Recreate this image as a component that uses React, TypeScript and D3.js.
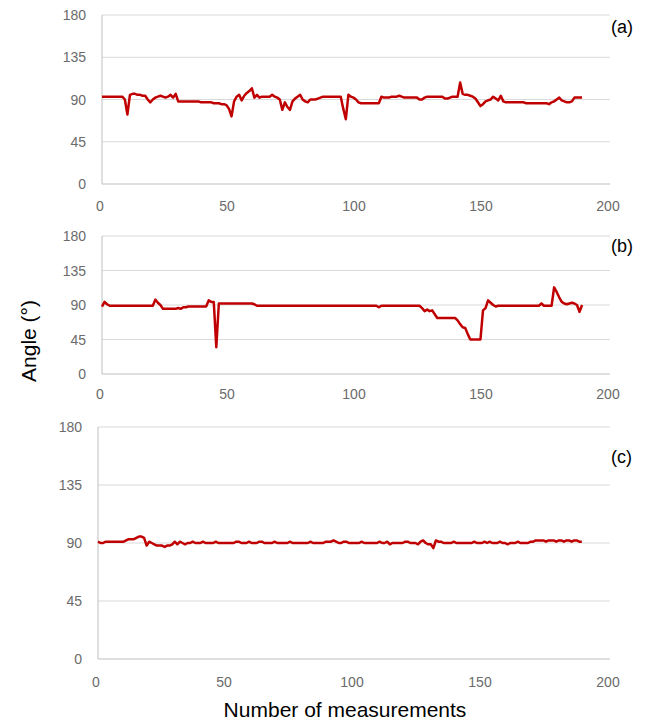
import { line, scaleLinear, select } from "d3"
import { useEffect, useRef } from "react"

// angle readings (degrees), one per measurement
const angleA = [
  93, 93, 93, 93, 93, 93, 93, 93, 93, 90,
  74, 95, 96, 96, 95, 95, 94, 94, 90, 87,
  90, 92, 93, 94, 93, 92, 93, 95, 92, 96,
  88, 88, 88, 88, 88, 88, 88, 88, 88, 87,
  87, 87, 87, 87, 86, 86, 86, 85, 85, 84,
  80, 72, 88, 93, 95, 89, 94, 97, 99, 102,
  92, 95, 92, 93, 93, 93, 93, 95, 93, 92,
  90, 79, 87, 82, 79, 88, 91, 93, 95, 90,
  88, 87, 90, 90, 90, 91, 92, 93, 93, 93,
  93, 93, 93, 93, 93, 80, 69, 95, 93, 92,
  90, 87, 86, 86, 86, 86, 86, 86, 86, 86,
  93, 92, 92, 92, 93, 93, 93, 94, 93, 92,
  92, 92, 92, 92, 92, 90, 90, 92, 93, 93,
  93, 93, 93, 93, 93, 91, 91, 92, 93, 93,
  93, 108, 96, 95, 95, 94, 93, 91, 87, 83,
  85, 88, 89, 90, 93, 91, 89, 94, 88, 87,
  87, 87, 87, 87, 87, 87, 87, 86, 86, 86,
  86, 86, 86, 86, 86, 86, 85, 87, 88, 90,
  92, 89, 88, 87, 87, 88, 92, 92, 92, 92,
]

const angleB = [
  88, 94, 91, 89, 89, 89, 89, 89, 89, 89,
  89, 89, 89, 89, 89, 89, 89, 89, 89, 89,
  89, 97, 93, 90, 85, 85, 85, 85, 85, 85,
  86, 85, 87, 87, 88, 88, 88, 88, 88, 88,
  88, 88, 96, 94, 94, 35, 92, 92, 92, 92,
  92, 92, 92, 92, 92, 92, 92, 92, 92, 92,
  91, 89, 89, 89, 89, 89, 89, 89, 89, 89,
  89, 89, 89, 89, 89, 89, 89, 89, 89, 89,
  89, 89, 89, 89, 89, 89, 89, 89, 89, 89,
  89, 89, 89, 89, 89, 89, 89, 89, 89, 89,
  89, 89, 89, 89, 89, 89, 89, 89, 89, 87,
  89, 89, 89, 89, 89, 89, 89, 89, 89, 89,
  89, 89, 89, 89, 89, 89, 86, 82, 84, 82,
  83, 78, 73, 73, 73, 73, 73, 73, 73, 73,
  70, 65, 61, 60, 52, 45, 45, 45, 45, 45,
  83, 86, 96, 93, 90, 88, 89, 89, 89, 89,
  89, 89, 89, 89, 89, 89, 89, 89, 89, 89,
  89, 89, 89, 92, 89, 89, 89, 89, 113, 107,
  100, 94, 92, 91, 92, 93, 92, 90, 81, 90,
]

const angleC = [
  91, 90, 90, 91, 91, 91, 91, 91, 91, 91,
  91, 92, 93, 93, 93, 94, 95, 95, 94, 88,
  91, 90, 89, 88, 88, 88, 87, 88, 88, 89,
  91, 89, 91, 90, 89, 90, 90, 91, 90, 90,
  90, 91, 90, 90, 90, 90, 91, 90, 90, 90,
  90, 90, 90, 90, 91, 91, 90, 90, 90, 91,
  90, 90, 90, 91, 91, 90, 90, 90, 90, 91,
  90, 90, 90, 90, 90, 91, 90, 90, 90, 90,
  90, 90, 90, 91, 90, 90, 90, 90, 90, 91,
  91, 91, 92, 91, 90, 90, 91, 91, 90, 90,
  90, 90, 90, 91, 90, 90, 90, 90, 90, 90,
  91, 90, 90, 91, 89, 90, 90, 90, 90, 90,
  91, 91, 90, 90, 90, 89, 91, 92, 90, 89,
  89, 86, 92, 91, 91, 90, 90, 90, 90, 91,
  90, 90, 90, 90, 90, 90, 90, 91, 90, 90,
  90, 91, 90, 91, 90, 90, 90, 91, 90, 90,
  89, 90, 90, 90, 91, 90, 90, 90, 90, 91,
  91, 92, 92, 92, 92, 91, 92, 92, 92, 91,
  92, 92, 91, 92, 92, 91, 92, 92, 91, 91,
]

const yTicks = [0, 45, 90, 135, 180]
const xTicks = [0, 50, 100, 150, 200]

const panels = [
  { label: "(a)", values: angleA, left: 102, top: 15, bottom: 184, labelY: 33, tickGap: 27, yLabelGap: 16 },
  { label: "(b)", values: angleB, left: 102, top: 236, bottom: 374, labelY: 252, tickGap: 25, yLabelGap: 16 },
  { label: "(c)", values: angleC, left: 98, top: 427, bottom: 659, labelY: 463, tickGap: 28, yLabelGap: 16 },
]

const App = () => {
  const ref = useRef(null)

  useEffect(() => {
    const svg = select(ref.current)
    svg.selectAll("*").remove()

    panels.forEach(p => {
      const x = scaleLinear().domain([0, 200]).range([p.left, 610])
      const y = scaleLinear().domain([0, 180]).range([p.bottom, p.top])
      const g = svg.append("g")

      g.selectAll(".grid")
        .data(yTicks)
        .join("line")
        .attr("x1", x(0))
        .attr("x2", x(200))
        .attr("y1", d => y(d))
        .attr("y2", d => y(d))
        .attr("stroke", d => d === 0 ? "#bfbfbf" : "#d9d9d9")
        .attr("stroke-width", 1)

      g.append("line")
        .attr("x1", x(0)).attr("x2", x(0))
        .attr("y1", y(180)).attr("y2", y(0))
        .attr("stroke", "#bfbfbf")

      g.selectAll(".ylab")
        .data(yTicks)
        .join("text")
        .attr("x", x(0) - p.yLabelGap)
        .attr("y", d => y(d) + 5)
        .attr("text-anchor", "end")
        .attr("font-size", 14)
        .attr("fill", "#6b6b6b")
        .text(d => d)

      g.selectAll(".xlab")
        .data(xTicks)
        .join("text")
        .attr("x", d => x(d) - 2)
        .attr("y", y(0) + p.tickGap)
        .attr("text-anchor", "middle")
        .attr("font-size", 14)
        .attr("fill", "#6b6b6b")
        .text(d => d)

      g.append("path")
        .datum(p.values)
        .attr("fill", "none")
        .attr("stroke", "#c00000")
        .attr("stroke-width", 2.5)
        .attr("stroke-linejoin", "round")
        .attr("d", line().x((d, i) => x(i)).y(d => y(d)))

      g.append("text")
        .attr("x", 611)
        .attr("y", p.labelY)
        .attr("font-size", 18)
        .attr("fill", "#000")
        .text(p.label)
    })

    svg.append("text")
      .attr("transform", "translate(36,341) rotate(-90)")
      .attr("text-anchor", "middle")
      .attr("font-size", 21)
      .attr("fill", "#000")
      .text("Angle (°)")

    svg.append("text")
      .attr("x", 345)
      .attr("y", 717)
      .attr("text-anchor", "middle")
      .attr("font-size", 21)
      .attr("fill", "#000")
      .text("Number of measurements")
  }, [])

  return (
    <svg
      ref={ref}
      width={651}
      height={726}
      style={{ position: "absolute", left: 0, top: 0, background: "#fff", fontFamily: "'Liberation Sans', Arial, sans-serif" }}
    />
  )
}

export default App
